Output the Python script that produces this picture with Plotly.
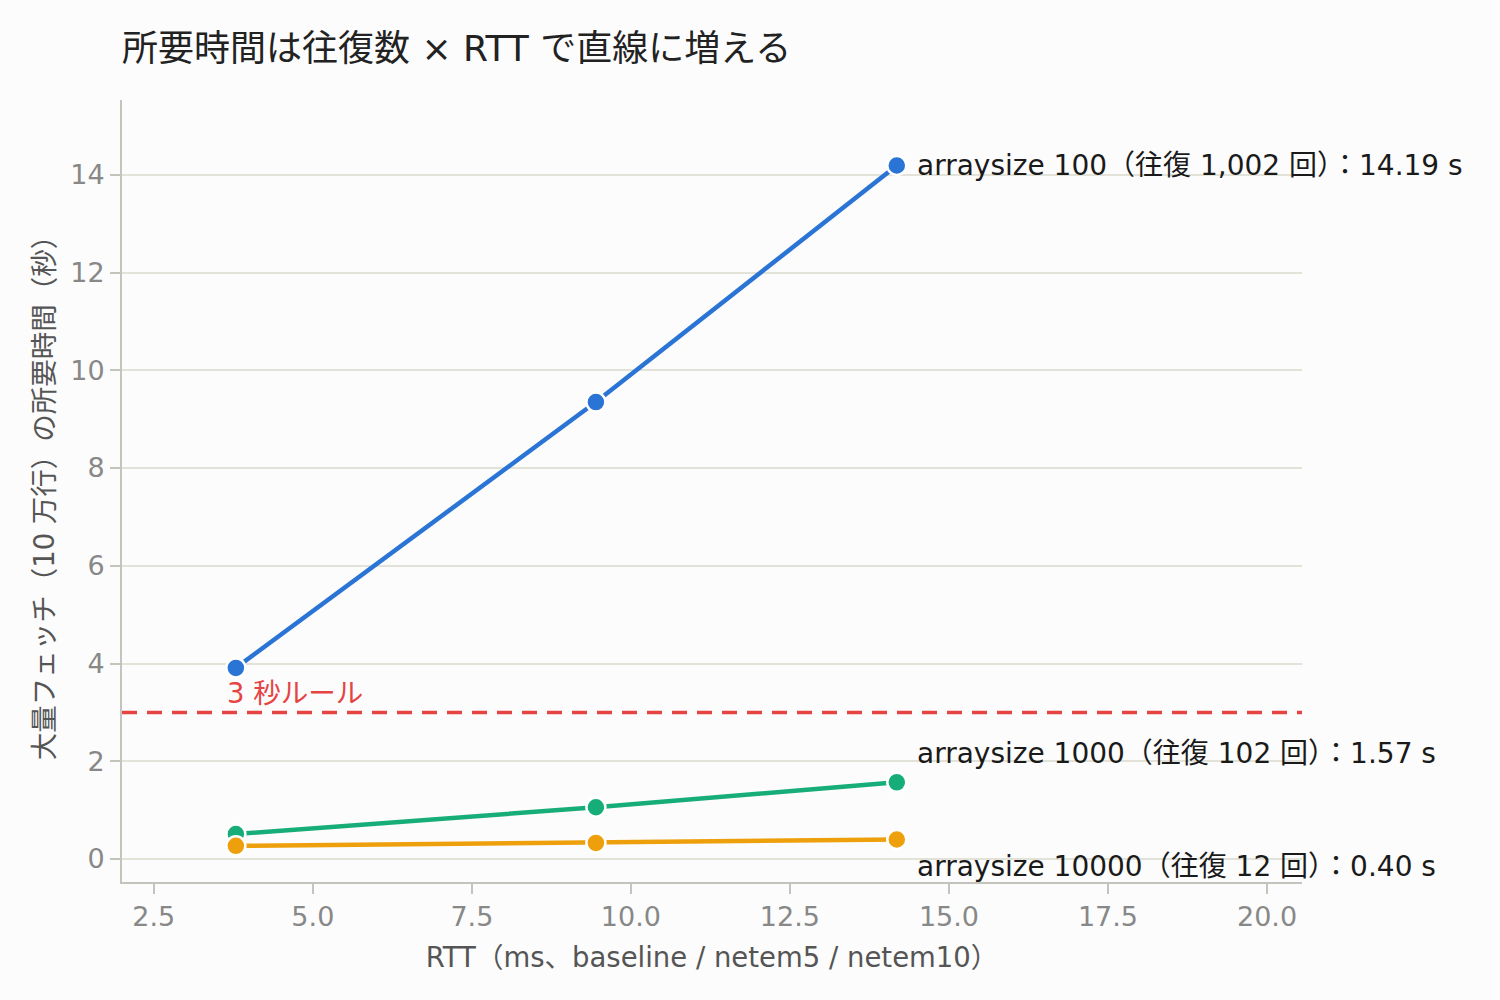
import plotly.graph_objects as go

rtt_ms = [3.79, 9.45, 14.18]
series_names = ["arraysize 100", "arraysize 1000", "arraysize 10000"]
round_trips = ["1,002", "102", "12"]
fetch_sec = {
    "arraysize 100": [3.91, 9.35, 14.19],
    "arraysize 1000": [0.51, 1.06, 1.57],
    "arraysize 10000": [0.27, 0.33, 0.40],
}
colors = {
    "arraysize 100": "#2a74d5",
    "arraysize 1000": "#17ad78",
    "arraysize 10000": "#eda00c",
}
label_shift = {"arraysize 100": 0, "arraysize 1000": 29, "arraysize 10000": -27}
threshold = 3

font_family = "DejaVu Sans, Verdana, Noto Sans CJK JP, sans-serif"

fig = go.Figure()

for name in series_names:
    fig.add_trace(go.Scatter(
        x=rtt_ms,
        y=fetch_sec[name],
        mode="lines+markers",
        name=name,
        line=dict(color=colors[name], width=4.5),
        marker=dict(size=19, color=colors[name], line=dict(color="white", width=2.5)),
        showlegend=False,
    ))

for name, trips in zip(series_names, round_trips):
    y_last = fetch_sec[name][-1]
    fig.add_annotation(
        x=rtt_ms[-1], y=y_last,
        text=f"{name}（往復 {trips} 回）：{y_last:.2f} s",
        showarrow=False, xanchor="left", yanchor="middle",
        xshift=18, yshift=label_shift[name],
        font=dict(size=28, color="#1a1a1a", family=font_family),
    )

fig.add_hline(y=threshold, line=dict(color="#e64343", width=3.5, dash="15px,10px"))
fig.add_annotation(
    x=rtt_ms[0], y=threshold, text="3 秒ルール",
    showarrow=False, xanchor="left", yanchor="bottom",
    xshift=-11, yshift=1,
    font=dict(size=27.5, color="#e64343", family=font_family),
)

fig.update_layout(
    width=1500, height=1000,
    margin=dict(l=122, r=198, t=100, b=118),
    paper_bgcolor="#fcfcfc",
    plot_bgcolor="#fcfcfc",
    font=dict(family=font_family, size=26, color="#555555"),
    title=dict(
        text="所要時間は往復数 × RTT で直線に増える",
        x=0, xref="paper", xanchor="left",
        y=0.952, yref="container", yanchor="middle",
        font=dict(size=36, color="#222222", family=font_family),
    ),
    xaxis=dict(
        title=dict(text="RTT（ms、baseline / netem5 / netem10）", standoff=16,
                   font=dict(size=27.5, color="#555555")),
        range=[2.0, 20.55], tick0=2.5, dtick=2.5, tickformat=".1f",
        showgrid=False, zeroline=False,
        showline=True, linecolor="#c4c4bc", linewidth=2,
        ticks="outside", ticklen=10, tickcolor="#c4c4bc", tickwidth=2,
        tickfont=dict(size=27, color="#888888"),
    ),
    yaxis=dict(
        title=dict(text="大量フェッチ（10 万行）の所要時間（秒）", standoff=8,
                   font=dict(size=27.5, color="#555555")),
        range=[-0.47, 15.53], tick0=0, dtick=2,
        showgrid=True, gridcolor="#e2e2d8", gridwidth=2,
        zeroline=False,
        showline=True, linecolor="#c4c4bc", linewidth=2,
        ticks="outside", ticklen=10, tickcolor="#c4c4bc", tickwidth=2,
        tickfont=dict(size=27, color="#888888"),
    ),
)

fig.write_html(
    "out.html",
    config={"displayModeBar": False},
    post_script="document.body.style.margin='0';document.body.style.background='#fcfcfc';",
)
